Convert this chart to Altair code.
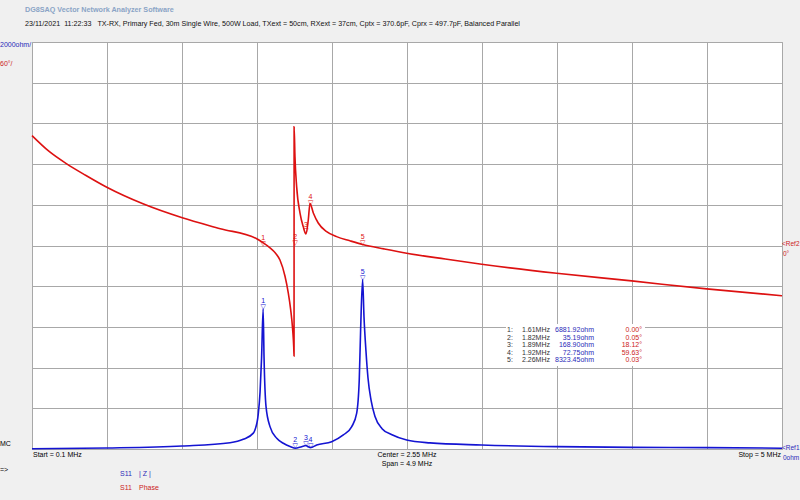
import altair as alt
import pandas as pd

# ---------------- data ----------------
freq_z = [0.10, 0.59, 1.08, 1.394, 1.48, 1.546, 1.557, 1.578, 1.590, 1.600, 1.61, 1.616, 1.629,
          1.655, 1.699, 1.742, 1.790, 1.82, 1.862, 1.89, 1.905, 1.92, 1.96, 2.058, 2.134, 2.189,
          2.221, 2.238, 2.247, 2.26, 2.269, 2.282, 2.295, 2.315, 2.341, 2.387, 2.452, 2.548,
          2.70, 3.038, 3.528, 4.026, 4.508, 5.0]
z_ohm = [10, 50, 150, 310, 475, 780, 950, 1700, 2800, 4500, 6882, 4500, 2080,
         1100, 525, 280, 110, 35, 115, 169, 110, 73, 197, 360, 690, 1100,
         1750, 3390, 5850, 8323, 6500, 4800, 3500, 2400, 1600, 1000, 700, 440,
         300, 197, 115, 80, 70, 40]

freq_ph = [0.10, 0.21, 0.327, 0.45, 0.592, 0.825, 1.082, 1.33, 1.568, 1.607, 1.655, 1.69, 1.72,
           1.753, 1.774, 1.79, 1.803, 1.810, 1.812, 1.8125, 1.818, 1.829, 1.851, 1.872, 1.89,
           1.905, 1.916, 1.938, 1.97, 2.025, 2.09, 2.177, 2.26, 2.40, 2.548, 2.80, 3.038,
           3.528, 4.018, 4.508, 5.0]
phase_deg = [162, 139, 120.3, 103.5, 85.4, 61.4, 40.8, 24.8, 9.9, 4.4, -3.4, -11, -21.4,
             -45.3, -69.4, -94.5, -124, -150, -163, 175, 131, 86.8, 47.9, 27.8, 17,
             37.6, 62, 48, 33.2, 20.4, 13.1, 6.9, 1.5, -5, -11.4, -20, -27.6,
             -40.9, -52.2, -64.0, -74.0]

mk_num = ["1", "2", "3", "4", "5"]
mk_freq = [1.61, 1.82, 1.89, 1.92, 2.26]
mk_z = [6881.92, 35.19, 168.90, 72.75, 8323.45]
mk_ph = [0.00, 0.05, 18.12, 59.63, 0.03]

grid_f = [0.1, 0.59, 1.08, 1.57, 2.06, 2.55, 3.04, 3.53, 4.02, 4.51, 5.0]
grid_z = [0, 2000, 4000, 6000, 8000, 10000, 12000, 14000, 16000, 18000, 20000]

NB = "\u00a0"
header = ("23/11/2021" + NB * 2 + "11:22:33" + NB * 3 + "TX-RX, Primary Fed, 30m Single Wire, 500W Load, "
          "TXext = 50cm, RXext = 37cm, Cptx = 370.6pF, Cprx = 497.7pF, Balanced Parallel")

# ---------------- styling ----------------
BLUE = "#1414d2"
RED = "#dd1111"
TXT_BLUE = "#2a2ab8"
TXT_RED = "#cc2222"
GRID = "#a8a8a8"
FONT = "Liberation Sans"
FS = 7

X = alt.Scale(domain=[0.1, 5.0], nice=False, zero=False)
YZ = alt.Scale(domain=[0, 20000], nice=False, zero=False)
YP = alt.Scale(domain=[-300, 300], nice=False, zero=False)
xaxis = alt.Axis(values=grid_f, grid=True, labels=False, ticks=False, domain=False,
                 title=None, gridColor=GRID, gridOpacity=1, gridWidth=1)
yaxis = alt.Axis(values=grid_z, grid=True, labels=False, ticks=False, domain=False,
                 title=None, gridColor=GRID, gridOpacity=1, gridWidth=1)

zdf = pd.DataFrame({"f": freq_z, "z": z_ohm})
pdf = pd.DataFrame({"f": freq_ph, "p": phase_deg})
mdf = pd.DataFrame({
    "n": mk_num, "f": mk_freq, "z": mk_z, "p": mk_ph,
    "row": list(range(len(mk_num))),
    "idx": [n + ":" for n in mk_num],
    "flbl": [f"{v:.2f}MHz" for v in mk_freq],
    "zlbl": [f"{v:.2f}ohm" for v in mk_z],
    "plbl": [f"{v:.2f}°" for v in mk_ph],
})

blue_line = alt.Chart(zdf).mark_line(color=BLUE, strokeWidth=1.6, interpolate="monotone").encode(
    x=alt.X("f:Q", scale=X, axis=xaxis),
    y=alt.Y("z:Q", scale=YZ, axis=yaxis),
)
red_line = alt.Chart(pdf).mark_line(color=RED, strokeWidth=1.6, interpolate="monotone").encode(
    x=alt.X("f:Q", scale=X, axis=xaxis),
    y=alt.Y("p:Q", scale=YP, axis=None),
)


def marker_layers(field, scale, color):
    base = alt.Chart(mdf).encode(
        x=alt.X("f:Q", scale=X, axis=xaxis),
        y=alt.Y(f"{field}:Q", scale=scale, axis=None),
    )
    tri = base.mark_text(text="▽", font="DejaVu Sans", fontSize=7, color=color,
                         baseline="bottom", dy=1)
    num = base.mark_text(font=FONT, fontSize=FS, color=color, baseline="bottom", dy=-5).encode(
        text="n:N")
    return [tri, num]


def label(txt, x, y, color="black", align="left", size=FS, weight="normal"):
    return alt.Chart(pd.DataFrame({"t": [txt]})).mark_text(
        align=align, baseline="middle", fontSize=size, font=FONT, color=color,
        fontWeight=weight).encode(x=alt.value(x), y=alt.value(y), text="t:N")


# marker table
table_bg = alt.Chart(pd.DataFrame({"a": [0]})).mark_rect(color="white").encode(
    x=alt.value(474), x2=alt.value(613), y=alt.value(282), y2=alt.value(324))


def table_col(field, x, align, color):
    return alt.Chart(mdf).transform_calculate(ty="288 + datum.row * 7.5").mark_text(
        align=align, baseline="middle", fontSize=FS, font=FONT, color=color).encode(
        x=alt.value(x), y=alt.Y("ty:Q", scale=None, axis=None), text=f"{field}:N")


layers = [blue_line, red_line]
layers += marker_layers("z", YZ, BLUE)
layers += marker_layers("p", YP, RED)
layers += [
    table_bg,
    table_col("idx", 475, "left", "#333333"),
    table_col("flbl", 518, "right", "#333333"),
    table_col("zlbl", 562, "right", TXT_BLUE),
    table_col("plbl", 610, "right", TXT_RED),
    label("DG8SAQ Vector Network Analyzer Software", -7, -32, "#8aa4c6", size=7.2, weight="bold"),
    label(header, -7, -18, "#111111", size=7.15),
    label("2000ohm/", -32, 3, TXT_BLUE),
    label("60°/", -32, 22, TXT_RED),
    label("<Ref2", 750, 202, TXT_RED, size=6.5),
    label("0°", 751, 212, TXT_RED, size=6.5),
    label("<Ref1", 750, 406, TXT_BLUE, size=6.5),
    label("0ohm", 751, 416, TXT_BLUE, size=6.5),
    label("MC", -32, 402),
    label("=>", -32, 428),
    label("Start = 0.1 MHz", 1, 413),
    label("Center = 2.55 MHz", 375, 413, align="center"),
    label("Span = 4.9 MHz", 375, 422, align="center"),
    label("Stop = 5 MHz", 749, 413, align="right"),
    label("S11", 88, 432, TXT_BLUE),
    label("| Z |", 107, 432, TXT_BLUE),
    label("S11", 88, 446, TXT_RED),
    label("Phase", 107, 446, TXT_RED),
]

chart = alt.layer(*layers).resolve_scale(y="independent").properties(
    width=750, height=407,
    padding={"left": 32, "top": 42, "right": 18, "bottom": 51},
    autosize=alt.AutoSizeParams(type="none"),
    background="#f0f0f0",
).configure_view(fill="white", stroke="#a0a0a0", strokeWidth=1)

chart.save("out.html", embed_options={"renderer": "svg", "actions": False})
